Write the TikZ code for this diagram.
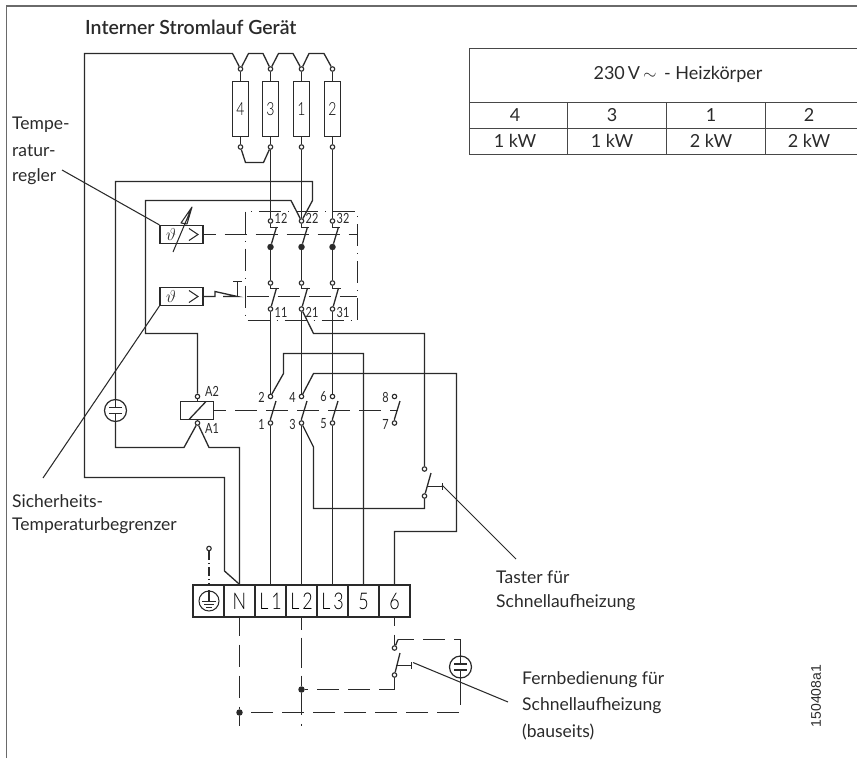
\documentclass[tikz,border=0pt]{standalone}
\usepackage{fontspec}
\setmainfont{Lato}
\setsansfont{Lato Light}
\newfontfamily\titlefont{Lato Semibold}
\newfontfamily\numfont{Liberation Sans}
\usetikzlibrary{calc}
\definecolor{ink}{HTML}{2A2A2A}
\definecolor{framec}{HTML}{6A6A6A}
\definecolor{gridc}{HTML}{484848}
\newcommand{\nar}[1]{\scalebox{.78}[1]{#1}}
\tikzset{
  wire/.style={draw=ink,line width=1.3pt,line join=miter},
  thinw/.style={draw=ink,line width=1.05pt},
  leader/.style={draw=ink,line width=1.05pt},
  framel/.style={draw=framec,line width=1.6pt},
  grid/.style={draw=gridc,line width=1.2pt},
  dashw/.style={draw=ink,line width=1.3pt,dash pattern=on 22pt off 9pt},
  dashdot/.style={draw=ink,line width=1.2pt,dash pattern=on 22pt off 7pt on 1pt off 7pt},
  term/.style={circle,draw=ink,fill=white,line width=1.1pt,inner sep=0pt,minimum size=4.5pt},
  bigdot/.style={circle,fill=ink,inner sep=0pt,minimum size=6.5pt},
  res/.style={rectangle,draw=ink,line width=1.3pt,minimum width=16pt,minimum height=55pt,inner sep=0pt,font=\sffamily\fontsize{18}{18}\selectfont},
  ctl/.style={rectangle,draw=ink,line width=1.3pt,minimum width=43pt,minimum height=18pt,inner sep=0pt},
  blk/.style={rectangle,draw=ink,line width=1.3pt,minimum width=31pt,minimum height=32pt,inner sep=0pt,font=\sffamily\fontsize{23}{23}\selectfont},
  cad/.style={inner sep=0pt,text=ink,font=\rmfamily\fontsize{14}{14}\selectfont},
  lab/.style={inner sep=0pt,anchor=west,text=ink,font=\fontsize{17.5}{17.5}\selectfont},
  cell/.style={inner sep=0pt,text=ink,font=\fontsize{18}{18}\selectfont},
}
\begin{document}
\begin{tikzpicture}[x=1pt,y=-1pt]
\useasboundingbox (0,0) rectangle (857,758);
% frame
\draw[framel] (6.5,758) -- (6.5,6) -- (857,6);
% title and labels
\node[lab,font=\titlefont\fontsize{19.5}{19.5}\selectfont] (title) at (85,27) {Interner Stromlauf Gerät};
\node[lab] (tr1) at (12,125) {Tempe-};
\node[lab] (tr2) at (12,151) {ratur-};
\node[lab] (tr3) at (12,177) {regler};
\node[lab] (st1) at (12,501) {Sicherheits-};
\node[lab] (st2) at (12,526) {Temperaturbegrenzer};
\node[lab] (ta1) at (496,577) {Taster für};
\node[lab] (ta2) at (496,603) {Schnellaufheizung};
\node[lab] (fb1) at (522,680) {Fernbedienung für};
\node[lab] (fb2) at (522,706) {Schnellaufheizung};
\node[lab] (fb3) at (522,732) {(bauseits)};
\node[inner sep=0pt,rotate=90,text=ink,font=\numfont\fontsize{14}{14}\selectfont] (code) at (816,696) {150408a1};
% table
\draw[grid] (469.5,154.5) -- (469.5,48.5) -- (857,48.5);
\draw[grid] (469.5,102.5) -- (857,102.5);
\draw[grid] (469.5,128.5) -- (857,128.5);
\draw[grid] (469.5,154.5) -- (857,154.5);
\draw[grid] (567.5,102.5) -- (567.5,154.5);
\draw[grid] (666.5,102.5) -- (666.5,154.5);
\draw[grid] (765.5,102.5) -- (765.5,154.5);
\node[cell] (thead) at (678,74) {230\,V\,$\sim$\, - Heizkörper};
\node[cell] (c41) at (515,115) {4};
\node[cell] (c31) at (612,115) {3};
\node[cell] (c11) at (711,115) {1};
\node[cell] (c21) at (809,115) {2};
\node[cell] (c42) at (515,141) {1 kW};
\node[cell] (c32) at (612,141) {1 kW};
\node[cell] (c12) at (711,141) {2 kW};
\node[cell] (c22) at (809,141) {2 kW};
% terminal block
\node[blk] (kE) at (208.5,601) {};
\node[blk] (kN) at (239.5,601) {\nar{N}};
\node[blk] (kL1) at (270.5,601) {\nar{L\,1}};
\node[blk] (kL2) at (301.5,601) {\nar{L\,2}};
\node[blk] (kL3) at (332.5,601) {\nar{L\,3}};
\node[blk] (k5) at (363.5,601) {\nar{5}};
\node[blk] (k6) at (394.5,601) {\nar{6}};
% earth in block
\node[circle,draw=ink,line width=1.05pt,minimum size=20pt,inner sep=0pt] (gnd) at (209,601) {};
\draw[thinw] (gnd.north) -- (209,601.5);
\draw[thinw] (202,601.5) -- (216,601.5);
\draw[thinw] (204,604.5) -- (214,604.5);
\draw[thinw] (206,607.5) -- (212,607.5);
\node[term] (PE) at (209,548.5) {};
\draw[thinw,dash pattern=on 9pt off 3pt on 1pt off 3pt] (PE) -- (kE.north -| PE);
% heaters
\node[res] (R4) at (240.5,109) {\nar{4}};
\node[res] (R3) at (270.5,109) {\nar{3}};
\node[res] (R1) at (301.5,109) {\nar{1}};
\node[res] (R2) at (332.5,109) {\nar{2}};
\node[term] (R4t) at (240.5,69) {};
\node[term] (R3t) at (270.5,69) {};
\node[term] (R1t) at (301.5,69) {};
\node[term] (R2t) at (332.5,69) {};
\node[term] (R4b) at (240.5,147) {};
\node[term] (R3b) at (270.5,147) {};
\node[term] (R1b) at (301.5,147) {};
\node[term] (R2b) at (332.5,147) {};
\foreach \n in {4,3,1,2}{
  \draw[wire] (R\n t) -- (R\n.north);
  \draw[wire] (R\n b) -- (R\n.south);
}
\draw[wire] (R4t) -- (232.5,53.5) -- (84.5,53.5) -- (84.5,477.5) -- (224.5,477.5) -- (224.5,571) -- (kN.north);
\draw[wire] (R4t) -- (248.5,53.5) -- (263,53.5) -- (R3t);
\draw[wire] (R3t) -- (278.5,53.5) -- (293,53.5) -- (R1t);
\draw[wire] (R1t) -- (309,53.5) -- (324,53.5) -- (R2t);
\draw[wire] (R4b) -- (245.5,162.5) -- (263.5,162.5) -- (R3b);
% safety switch box
\draw[dashdot] (245.5,211.5) rectangle (357.5,320.5);
\node[ctl] (TR) at (181.5,234.5) {};
\node[ctl] (STB) at (181.5,296.5) {};
\node[inner sep=0pt,text=ink,font=\fontsize{19}{19}\selectfont] (th1) at (171,234.5) {$\vartheta$};
\node[inner sep=0pt,text=ink,font=\fontsize{19}{19}\selectfont] (th2) at (171,296.5) {$\vartheta$};
\draw[thinw] (189,228.5) -- (198,234.5) -- (189,240.5);
\draw[thinw] (189,290.5) -- (198,296.5) -- (189,302.5);
\draw[thinw,line join=round] (173,252) -- (192,207) -- (181,223) -- (187,224) -- (192,207);
% contact banks
\foreach \x/\a/\b/\c/\d in {270.5/12/T1/T2/11,301.5/22/T3/T4/21,332.5/32/T5/T6/31}{
  \node[term] (\b) at (\x,221) {};
  \node[term] (\c) at (\x,283) {};
  \node[term] (B\d) at (\x,309) {};
  \node[bigdot] (D\a) at (\x,247) {};
  \draw[wire] (\b) -- (\x,227.5) -- ($(\x,227.5)+(7,0)$);
  \draw[wire] ($(\x,227)+(6,0)$) -- (D\a);
  \draw[wire] (D\a) -- (\c);
  \draw[wire] (\c) -- (\x,288.5) -- ($(\x,288.5)+(8,0)$);
  \draw[wire] ($(\x,288)+(6,0)$) -- (B\d);
  \node[cad,anchor=west] (LU\a) at ($(\x,218.5)+(4,0)$) {\nar{\a}};
  \node[cad,anchor=west] (LL\d) at ($(\x,312)+(4,0)$) {\nar{\d}};
}
\draw[dashw,dash phase=10pt] (TR.east) -- (357,234.5);
\draw[wire] (STB.east) -- (215,296.5) -- (215,291.5) -- (237.5,296.5) -- (223,296.5);
\draw[wire] (237.5,296.5) -- (237.5,281.5);
\draw[wire] (233,281.5) -- (241.5,281.5);
\draw[dashw,dash phase=22pt] (237.5,296.5) -- (357,296.5);
% supply to bank
\draw[wire] (R3b) -- (T1);
\draw[wire] (R1b) -- (T3);
\draw[wire] (R2b) -- (T5);
% relay
\node[rectangle,draw=ink,line width=1.3pt,minimum width=33pt,minimum height=18pt,inner sep=0pt] (coil) at (197,410.5) {};
\draw[wire] (189,419.5) -- (206,401.5);
\node[term] (A2) at (197.5,396.5) {};
\node[term] (A1) at (197.5,423) {};
\draw[wire] (A2) -- (coil.north -| A2);
\draw[wire] (A1) -- (coil.south -| A1);
\node[cad,anchor=west] (LA2) at (205,391) {\nar{A2}};
\node[cad,anchor=west] (LA1) at (205,428) {\nar{A1}};
% auxiliary loops
\node[circle,draw=ink,line width=1.2pt,minimum size=22pt,inner sep=0pt] (cap1) at (115.5,410.5) {};
\draw[wire] (cap1.north) -- (115.5,407.5);
\draw[wire] (cap1.south) -- (115.5,413.5);
\draw[wire] (109,407.5) -- (122,407.5);
\draw[wire] (109,413.5) -- (122,413.5);
\draw[wire] (T3) -- (312.5,200.5) -- (312.5,181.5) -- (115.5,181.5) -- (cap1.north);
\draw[wire] (T3) -- (291,200.5) -- (145.5,200.5) -- (145.5,333.5) -- (197.5,333.5) -- (A2);
\draw[wire] (A1) -- (184,447.5) -- (115.5,447.5) -- (cap1.south);
\draw[wire] (A1) -- (209,447.5) -- (239.5,447.5) -- (kN.north);
\draw[dashw,dash phase=10pt] (coil.east) -- (398,410.5);
% relay contacts
\foreach \x/\u/\l in {270.5/2/1,301.5/4/3,332.5/6/5,394.5/8/7}{
  \node[term] (P\u) at (\x,396.5) {};
  \node[term] (P\l) at (\x,423) {};
  \draw[wire] (P\l) -- ($(\x,419)+(0,0)$) -- ($(\x,401)+(5.5,0)$);
  \node[cad,anchor=east] (LP\u) at ($(\x,397)+(-5.5,0)$) {\nar{\u}};
  \node[cad,anchor=east] (LP\l) at ($(\x,424)+(-5.5,0)$) {\nar{\l}};
}
\draw[wire] (B11) -- (P2);
\draw[wire] (B21) -- (P4);
\draw[wire] (B31) -- (P6);
\draw[wire] (P1) -- (kL1.north);
\draw[wire] (P3) -- (kL2.north);
\draw[wire] (P5) -- (kL3.north);
\draw[wire] (P2) -- (283.5,373.5) -- (283.5,353.5) -- (363.5,353.5) -- (k5.north);
\draw[wire] (P4) -- (313.5,373.5) -- (456.5,373.5) -- (456.5,531.5) -- (394.5,531.5) -- (k6.north);
% quick heat button
\node[term] (Q1) at (424.5,469) {};
\node[term] (Q2) at (424.5,496) {};
\draw[wire] (B21) -- (313.5,333.5) -- (424.5,333.5) -- (Q1);
\draw[wire] (P3) -- (313.5,447) -- (313.5,508.5) -- (424.5,508.5) -- (Q2);
\draw[wire] (Q2) -- (431,473);
\draw[wire] (427,486.5) -- (442.5,486.5);
\draw[wire] (442.5,483) -- (442.5,490);
% remote control
\node[term] (F1) at (394.5,648) {};
\node[term] (F2) at (394.5,675) {};
\node[bigdot] (J2) at (301.5,689.5) {};
\node[bigdot] (J1) at (239.5,712.5) {};
\node[circle,draw=ink,line width=1.2pt,minimum size=22pt,inner sep=0pt] (cap2) at (460.5,667) {};
\draw[wire] (cap2.north) -- (460.5,664);
\draw[wire] (cap2.south) -- (460.5,670);
\draw[wire] (454,664) -- (467,664);
\draw[wire] (454,670) -- (467,670);
\draw[wire] (F2) -- (400,653);
\draw[wire] (396,665.5) -- (411.5,665.5);
\draw[wire] (411.5,662) -- (411.5,669);
\draw[dashw,dash phase=14pt] (k6.south) -- (F1);
\draw[wire] (F1) -- (398,639.5);
\draw[dashw,dash phase=6pt] (398,639.5) -- (460.5,639.5) -- (cap2.north);
\draw[wire] (F2) -- (394.5,689.5);
\draw[dashw,dash phase=6pt] (394.5,689.5) -- (J2);
\draw[wire] (cap2.south) -- (460.5,695);
\draw[dashw,dash phase=12pt] (460.5,695) -- (460.5,712.5) -- (J1);
\draw[dashw,dash phase=4pt] (kN.south) -- (J1);
\draw[dashw] (J1) -- (239.5,726);
\draw[dashw,dash pattern=on 30pt off 8pt,dash phase=18pt] (kL2.south) -- (J2);
\draw[dashw] (J2) -- (301.5,726);
% leaders
\draw[leader] (62,170) -- (TR.north west);
\draw[leader] (43,478) -- (STB.south west);
\draw[leader] (442,485) -- (516,559);
\draw[leader] (413,662.5) -- (508,702);
\end{tikzpicture}
\end{document}
